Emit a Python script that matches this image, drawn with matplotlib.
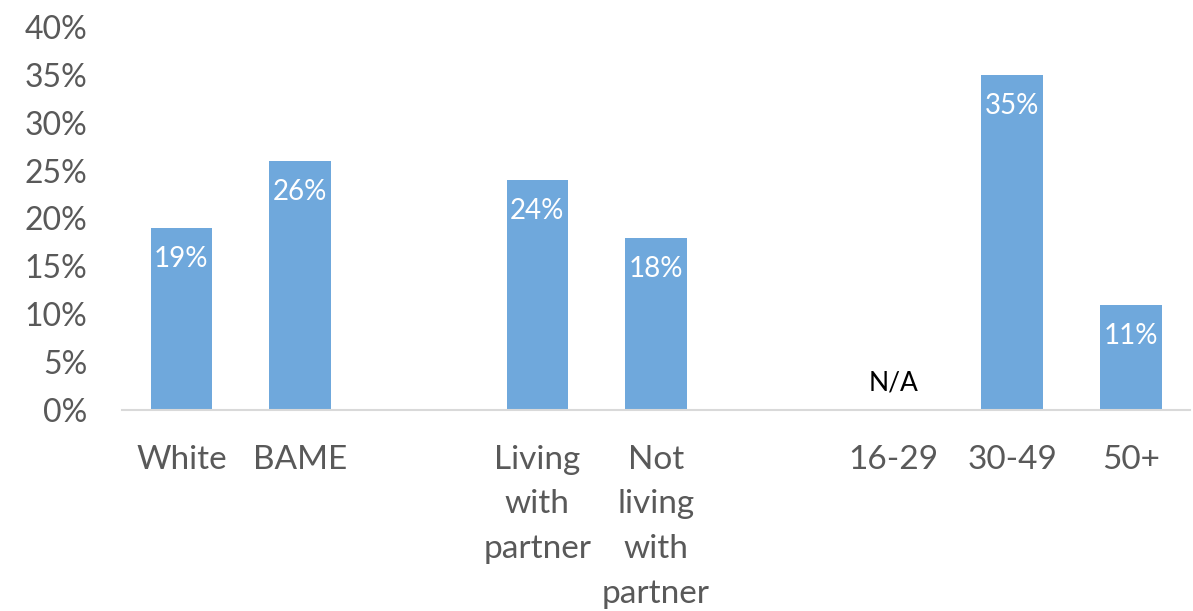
import matplotlib
matplotlib.use("Agg")
import matplotlib.pyplot as plt
import numpy as np

# Share of respondents by group (percent); None means not available
categories = ["White", "BAME", "", "Living\nwith\npartner", "Not\nliving\nwith\npartner",
              "", "16-29", "30-49", "50+"]
values = [19, 26, None, 24, 18, None, None, 35, 11]
na_labels = {6: "N/A"}
y_ticks = [0, 5, 10, 15, 20, 25, 30, 35, 40]

plt.rcParams["font.family"] = ["Lato", "DejaVu Sans"]

fig = plt.figure(figsize=(11.93, 6.11), dpi=100)
ax = fig.add_axes([0.1023, 0.329, 0.8952, 0.6268])

bar_color = "#6FA8DC"
text_gray = "#595959"

x = np.arange(len(categories))
for xi, v in zip(x, values):
    if v is None:
        continue
    ax.bar(xi, v, width=0.52, color=bar_color, edgecolor="none", zorder=2)
    ax.text(xi, v - 1.9, f"{v}%", ha="center", va="top", color="white",
            fontsize=20, zorder=3)

for xi, lab in na_labels.items():
    ax.text(xi, 1.5, lab, ha="center", va="bottom", color="black", fontsize=19)

ax.set_xlim(-0.5, len(categories) - 0.5)
ax.set_ylim(0, 40)
ax.set_yticks(y_ticks)
ax.set_yticklabels([f"{t}%" for t in y_ticks])
ax.set_xticks(x)
ax.set_xticklabels(categories, linespacing=1.61)

ax.tick_params(axis="y", length=0, labelsize=23, labelcolor=text_gray, pad=25)
ax.tick_params(axis="x", length=0, labelsize=24, labelcolor=text_gray, pad=25)

for side in ("top", "right", "left"):
    ax.spines[side].set_visible(False)
ax.spines["bottom"].set_color("#D9D9D9")
ax.spines["bottom"].set_linewidth(1.5)

fig.savefig("out.png", dpi=100)
